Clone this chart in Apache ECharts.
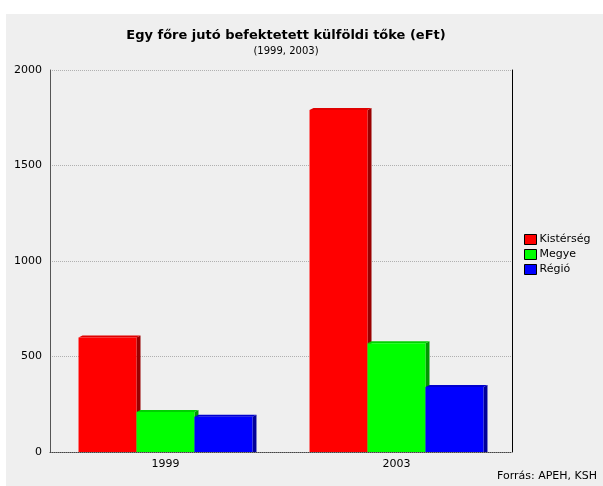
<!DOCTYPE html>
<html>
<head>
<meta charset="utf-8">
<script src="https://cdn.jsdelivr.net/npm/echarts@6/dist/echarts.min.js"></script>
<style>
  html, body { margin: 0; padding: 0; background: #fff; }
  #chart { width: 603px; height: 486px; }
</style>
</head>
<body>
<div id="chart"></div>
<script>
var years = ['1999', '2003'];
var kisterseg = [600, 1790];
var megye = [210, 570];
var regio = [185, 340];
var yTicks = [0, 500, 1000, 1500, 2000];

var myChart = echarts.init(document.getElementById('chart'));

// front / top / side colours for each series
var faces = [
    { name: 'Kistérség', data: kisterseg, front: '#ff0000', top: '#e00000', side: '#990000' },
    { name: 'Megye', data: megye, front: '#00ff00', top: '#00d000', side: '#009900' },
    { name: 'Régió', data: regio, front: '#0000ff', top: '#0000d0', side: '#000099' }
];

function makeRender (idx, f) {
    return function (params, api) {
        var cat = api.value(0);
        var val = api.value(1);
        var p = api.coord([cat, val]);
        var base = api.coord([cat, 0]);
        var band = api.size([1, 0])[0];
        var w = band * 0.251;
        var x0 = p[0] - 1.5 * w + idx * w;
        var x1 = x0 + w;
        var y = p[1];
        var b = base[1];
        var dx = 4, dy = 2;
        return {
            type: 'group',
            children: [
                { type: 'polygon', shape: { points: [[x1, y], [x1 + dx, y - dy], [x1 + dx, b], [x1, b]] },
                  style: { fill: f.side } },
                { type: 'polygon', shape: { points: [[x0, y], [x0 + dx, y - dy], [x1 + dx, y - dy], [x1, y]] },
                  style: { fill: f.top } },
                { type: 'rect', shape: { x: x0, y: y, width: w, height: b - y },
                  style: { fill: f.front } }
            ]
        };
    };
}

var series = faces.map(function (f, i) {
    return {
        type: 'custom',
        name: f.name,
        itemStyle: { color: f.front },
        renderItem: makeRender(i, f),
        encode: { x: 0, y: 1 },
        data: f.data.map(function (v, k) { return [k, v]; }),
        z: 2 + i
    };
});

var option = {
    backgroundColor: '#ffffff',
    animation: false,
    textStyle: { fontFamily: 'DejaVu Sans' },
    graphic: [
        { type: 'rect', z: -10, silent: true, shape: { x: 6, y: 14, width: 597, height: 472 },
          style: { fill: '#efefef' } },
        { type: 'text', right: 6, top: 471,
          style: { text: 'Forrás: APEH, KSH', fontSize: 11, fontFamily: 'DejaVu Sans', fill: '#000' } }
    ],
    title: {
        text: 'Egy főre jutó befektetett külföldi tőke (eFt)',
        subtext: '(1999, 2003)',
        left: 281,
        textAlign: 'center',
        top: 24,
        itemGap: 4,
        textStyle: { fontSize: 13, fontWeight: 'bold', color: '#000', fontFamily: 'DejaVu Sans' },
        subtextStyle: { fontSize: 10, color: '#000', fontFamily: 'DejaVu Sans' }
    },
    legend: {
        orient: 'vertical',
        left: 519,
        top: 229,
        itemWidth: 12,
        itemHeight: 10,
        itemGap: 4,
        icon: 'rect',
        itemStyle: { borderColor: '#000', borderWidth: 1 },
        textStyle: { fontSize: 11, color: '#000', padding: [0, 0, 0, -2] },
        data: faces.map(function (f) { return f.name; })
    },
    grid: { left: 50, right: 91, top: 70, bottom: 34 },
    xAxis: {
        type: 'category',
        data: years,
        axisTick: { show: false },
        axisLine: { lineStyle: { color: '#444', type: 'dotted', width: 1 } },
        axisLabel: { color: '#000', fontSize: 11, margin: 7 }
    },
    yAxis: [
        {
            type: 'value',
            min: yTicks[0],
            max: yTicks[yTicks.length - 1],
            interval: yTicks[1] - yTicks[0],
            axisLine: { show: true, lineStyle: { color: '#555', width: 1 } },
            axisTick: { show: false },
            axisLabel: {
                color: '#000', fontSize: 11, margin: 8,
                formatter: function (v) { return String(v); }
            },
            splitLine: { lineStyle: { color: '#b0b0b0', type: 'dotted' } }
        },
        {
            type: 'value',
            position: 'right',
            min: yTicks[0],
            max: yTicks[yTicks.length - 1],
            interval: yTicks[1] - yTicks[0],
            axisLine: { show: true, lineStyle: { color: '#000', width: 1 } },
            axisTick: { show: false },
            axisLabel: { show: false },
            splitLine: { show: false }
        }
    ],
    series: series
};

myChart.setOption(option);
</script>
</body>
</html>
